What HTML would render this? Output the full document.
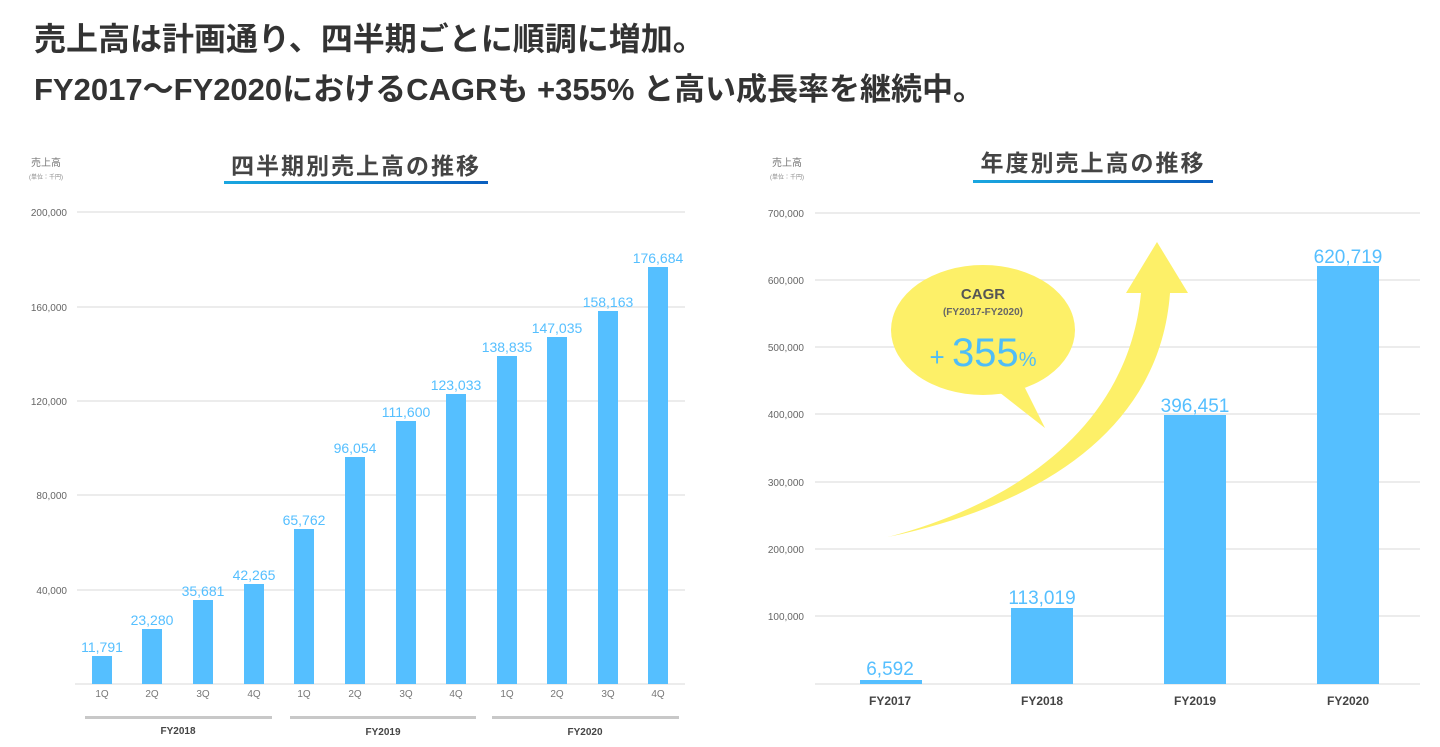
<!DOCTYPE html>
<html><head><meta charset="utf-8">
<style>
body{margin:0;width:1440px;height:742px;background:#fff;overflow:hidden;font-family:"Liberation Sans","Noto Sans CJK JP",sans-serif;}
</style></head><body>
<svg width="1440" height="742" viewBox="0 0 1440 742" xmlns="http://www.w3.org/2000/svg" style="font-family:'Liberation Sans','Noto Sans CJK JP',sans-serif">
<defs><linearGradient id="ul" x1="0" x2="1"><stop offset="0" stop-color="#1aa7e0"/><stop offset="1" stop-color="#0a5fbf"/></linearGradient></defs>
<text x="34" y="50" font-size="32" font-weight="bold" fill="#333">売上高は計画通り、四半期ごとに順調に増加。</text>
<text x="34" y="100" font-size="31" font-weight="bold" fill="#333">FY2017〜FY2020におけるCAGRも +355% と高い成長率を継続中。</text>

<text x="46" y="166" font-size="10" fill="#777" text-anchor="middle">売上高</text>
<text x="46" y="179" font-size="6" fill="#888" text-anchor="middle">(単位：千円)</text>
<text x="356" y="174" font-size="23" font-weight="bold" fill="#444" text-anchor="middle" letter-spacing="2">四半期別売上高の推移</text>
<rect x="224" y="181" width="264" height="3" fill="url(#ul)"/>
<g stroke="#e6e6e6" stroke-width="1.5">
<line x1="77" y1="212" x2="685" y2="212"/><line x1="77" y1="307" x2="685" y2="307"/><line x1="77" y1="401" x2="685" y2="401"/><line x1="77" y1="495" x2="685" y2="495"/><line x1="77" y1="590" x2="685" y2="590"/><line x1="75" y1="684" x2="685" y2="684"/>
</g>
<g font-size="10" fill="#666" text-anchor="end">
<text x="67" y="216">200,000</text><text x="67" y="311">160,000</text><text x="67" y="405">120,000</text><text x="67" y="499">80,000</text><text x="67" y="594">40,000</text>
</g>
<g fill="#55bfff">
<rect x="92" y="656" width="20" height="28"/><rect x="142" y="629" width="20" height="55"/><rect x="193" y="600" width="20" height="84"/><rect x="244" y="584" width="20" height="100"/>
<rect x="294" y="529" width="20" height="155"/><rect x="345" y="457" width="20" height="227"/><rect x="396" y="421" width="20" height="263"/><rect x="446" y="394" width="20" height="290"/>
<rect x="497" y="356" width="20" height="328"/><rect x="547" y="337" width="20" height="347"/><rect x="598" y="311" width="20" height="373"/><rect x="648" y="267" width="20" height="417"/>
</g>
<g font-size="14" fill="#55bfff" text-anchor="middle">
<text x="102" y="652">11,791</text><text x="152" y="625">23,280</text><text x="203" y="596">35,681</text><text x="254" y="580">42,265</text>
<text x="304" y="525">65,762</text><text x="355" y="453">96,054</text><text x="406" y="417">111,600</text><text x="456" y="390">123,033</text>
<text x="507" y="352">138,835</text><text x="557" y="333">147,035</text><text x="608" y="307">158,163</text><text x="658" y="263">176,684</text>
</g>
<g font-size="10" fill="#777" text-anchor="middle">
<text x="102" y="697">1Q</text><text x="152" y="697">2Q</text><text x="203" y="697">3Q</text><text x="254" y="697">4Q</text>
<text x="304" y="697">1Q</text><text x="355" y="697">2Q</text><text x="406" y="697">3Q</text><text x="456" y="697">4Q</text>
<text x="507" y="697">1Q</text><text x="557" y="697">2Q</text><text x="608" y="697">3Q</text><text x="658" y="697">4Q</text>
</g>
<g fill="#c8c8c8"><rect x="85" y="716" width="187" height="3"/><rect x="290" y="716" width="186" height="3"/><rect x="492" y="716" width="187" height="3"/></g>
<g font-size="10" font-weight="bold" fill="#444" text-anchor="middle"><text x="178" y="734">FY2018</text><text x="383" y="735">FY2019</text><text x="585" y="735">FY2020</text></g>

<text x="787" y="166" font-size="10" fill="#777" text-anchor="middle">売上高</text>
<text x="787" y="179" font-size="6" fill="#888" text-anchor="middle">(単位：千円)</text>
<text x="1093" y="171" font-size="23" font-weight="bold" fill="#444" text-anchor="middle" letter-spacing="2">年度別売上高の推移</text>
<rect x="973" y="180" width="240" height="3" fill="url(#ul)"/>
<g stroke="#e6e6e6" stroke-width="1.5">
<line x1="815" y1="213" x2="1420" y2="213"/><line x1="815" y1="280" x2="1420" y2="280"/><line x1="815" y1="347" x2="1420" y2="347"/><line x1="815" y1="414" x2="1420" y2="414"/><line x1="815" y1="482" x2="1420" y2="482"/><line x1="815" y1="549" x2="1420" y2="549"/><line x1="815" y1="616" x2="1420" y2="616"/><line x1="815" y1="684" x2="1420" y2="684"/>
</g>
<g font-size="10" fill="#666" text-anchor="end">
<text x="804" y="217">700,000</text><text x="804" y="284">600,000</text><text x="804" y="351">500,000</text><text x="804" y="418">400,000</text><text x="804" y="486">300,000</text><text x="804" y="553">200,000</text><text x="804" y="620">100,000</text>
</g>
<path d="M888,537 C1010,505 1128,430 1141,293 L1126,293 L1157,242 L1188,293 L1170,293 C1160,430 1040,505 888,537 Z" fill="#fdf068"/>
<path d="M990,385 L1045,428 L1025,388 Z" fill="#fdf068"/>
<ellipse cx="983" cy="330" rx="92" ry="65" fill="#fdf068"/>
<text x="983" y="299" font-size="15" font-weight="bold" fill="#555" text-anchor="middle">CAGR</text>
<text x="983" y="315" font-size="10" font-weight="bold" fill="#666" text-anchor="middle">(FY2017-FY2020)</text>
<text x="983" y="366" font-size="40" fill="#4fbdf7" text-anchor="middle"><tspan font-size="26">+ </tspan>355<tspan font-size="20">%</tspan></text>

<g fill="#55bfff">
<rect x="860" y="680" width="62" height="4"/><rect x="1011" y="608" width="62" height="76"/><rect x="1164" y="415" width="62" height="269"/><rect x="1317" y="266" width="62" height="418"/>
</g>
<g font-size="19" fill="#55bfff" text-anchor="middle">
<text x="890" y="675">6,592</text><text x="1042" y="604">113,019</text><text x="1195" y="412">396,451</text><text x="1348" y="263">620,719</text>
</g>
<g font-size="12" font-weight="bold" fill="#444" text-anchor="middle">
<text x="890" y="705">FY2017</text><text x="1042" y="705">FY2018</text><text x="1195" y="705">FY2019</text><text x="1348" y="705">FY2020</text>
</g>
</svg>
</body></html>
